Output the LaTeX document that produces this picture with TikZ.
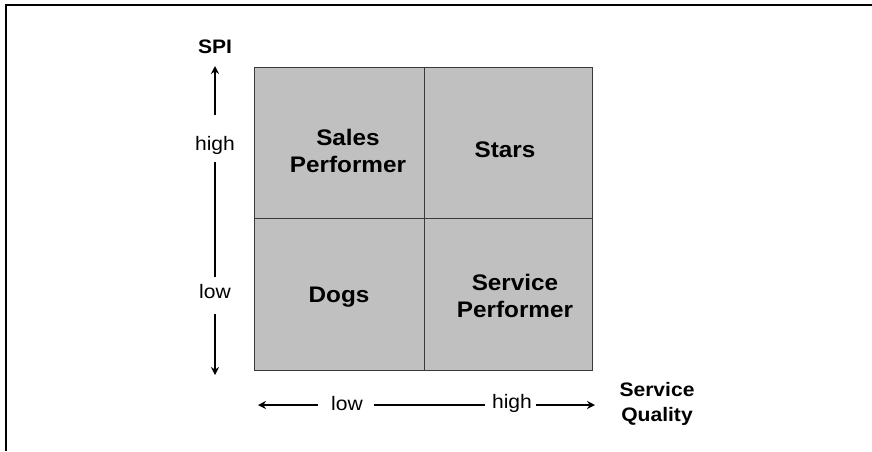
\documentclass[tikz,border=0pt]{standalone}
\usepackage{fontspec}
\setmainfont{Liberation Sans}
\newfontfamily\lab[FakeStretch=1.08]{Liberation Sans}
\usetikzlibrary{arrows.meta}
\definecolor{cellgray}{HTML}{C0C0C0}
\definecolor{gridline}{HTML}{3A3A3A}
\begin{document}
\begin{tikzpicture}[x=1pt,y=-1pt,
  cell/.style={draw=gridline,line width=0.9pt,fill=cellgray},
  quad/.style={font=\lab\bfseries\fontsize{22.5}{27}\selectfont,align=center,inner sep=0pt},
  axlab/.style={font=\lab\fontsize{19.5}{22}\selectfont,inner sep=0pt},
  axtitle/.style={font=\lab\bfseries\fontsize{19.5}{25}\selectfont,align=center,inner sep=0pt},
  axline/.style={line width=2pt,black},
  axarrow/.style={axline,-{Stealth[length=8pt,width=8pt]}},
  frame/.style={line width=2.2pt,black}]
\useasboundingbox (0,0) rectangle (872,451);

% frame on top and left
\coordinate (ftr) at (872,5);
\coordinate (ftl) at (6,5);
\coordinate (fbl) at (6,451);
\draw[frame] (ftr) -- (ftl) -- (fbl);

% the four cells
\draw[cell] (254,67) rectangle (424,218);
\draw[cell] (424,67) rectangle (592,218);
\draw[cell] (254,218) rectangle (424,370);
\draw[cell] (424,218) rectangle (592,370);

\node[quad] (sales) at (348,151) {Sales\\Performer};
\node[quad] (stars) at (505,150) {Stars};
\node[quad] (dogs) at (339,297) {Dogs};
\node[quad] (servp) at (515,296) {Service\\Performer};

% vertical axis
\node[axtitle] (spi) at (215,47) {SPI};
\node[axlab] (yhigh) at (215,145) {high};
\node[axlab] (ylow) at (215,292) {low};
\coordinate (yup0) at (215,115);
\coordinate (yup1) at (215,66);
\coordinate (ymid0) at (215,162);
\coordinate (ymid1) at (215,277);
\coordinate (ydn0) at (215,314);
\coordinate (ydn1) at (215,375);
\draw[axarrow] (yup0) -- (yup1);
\draw[axline] (ymid0) -- (ymid1);
\draw[axarrow] (ydn0) -- (ydn1);

% horizontal axis
\node[axlab] (xlow) at (347,404) {low};
\node[axlab] (xhigh) at (512,403) {high};
\node[axtitle] (sq) at (657,404) {Service\\Quality};
\coordinate (xl0) at (318,405);
\coordinate (xl1) at (258,405);
\coordinate (xm0) at (374,405);
\coordinate (xm1) at (485,405);
\coordinate (xr0) at (536,405);
\coordinate (xr1) at (595,405);
\draw[axarrow] (xl0) -- (xl1);
\draw[axline] (xm0) -- (xm1);
\draw[axarrow] (xr0) -- (xr1);
\end{tikzpicture}
\end{document}
